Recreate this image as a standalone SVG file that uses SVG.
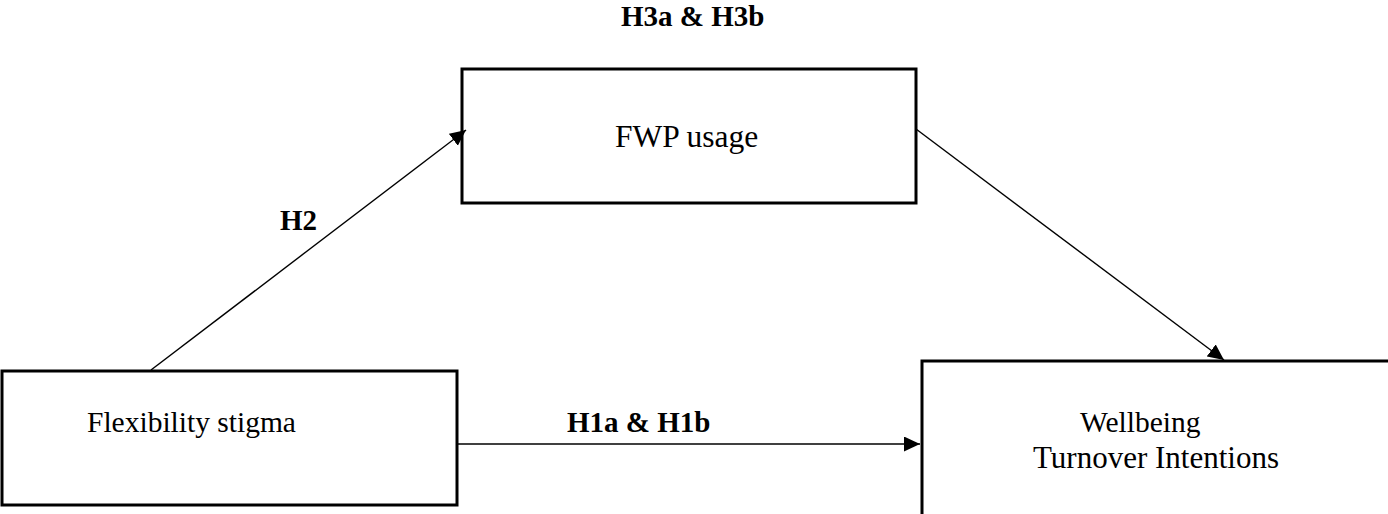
<svg xmlns="http://www.w3.org/2000/svg" width="1388" height="514" viewBox="0 0 1388 514">
<style>
.box{fill:#fff;stroke:#000;stroke-width:3}
.t{font-family:"Liberation Serif","Times New Roman",serif;fill:#000}
.lbl{font-family:"Liberation Serif","Times New Roman",serif;font-weight:bold;fill:#000;font-size:29px}
.con{stroke:#000;stroke-width:1.4;fill:none;marker-end:url(#arr)}
</style>
<defs>
<marker id="arr" markerUnits="userSpaceOnUse" markerWidth="17" markerHeight="16" refX="16" refY="7.5" orient="auto">
<path d="M0,0 L16,7.5 L0,15 z" fill="#000"/>
</marker>
</defs>
<rect width="1388" height="514" fill="#fff"/>
<g id="node-fwp">
<rect class="box" x="462" y="69" width="454" height="134"/>
<text class="t" x="615" y="147" font-size="31.5">FWP usage</text>
</g>
<g id="node-flex">
<rect class="box" x="2" y="371" width="455" height="134"/>
<text class="t" x="87" y="432" font-size="29.5">Flexibility stigma</text>
</g>
<g id="node-out">
<rect class="box" x="922" y="361" width="500" height="170"/>
<text class="t" x="1080" y="432" font-size="29.5">Wellbeing</text>
<text class="t" x="1033" y="468" font-size="31">Turnover Intentions</text>
</g>
<g id="connectors">
<line class="con" x1="151" y1="370" x2="466" y2="130"/>
<line class="con" x1="916" y1="129" x2="1224" y2="360"/>
<line class="con" x1="457" y1="444" x2="920" y2="444"/>
</g>
<g id="labels">
<text class="lbl" x="621" y="26">H3a &amp; H3b</text>
<text class="lbl" x="280" y="230">H2</text>
<text class="lbl" x="567" y="432">H1a &amp; H1b</text>
</g>
</svg>
